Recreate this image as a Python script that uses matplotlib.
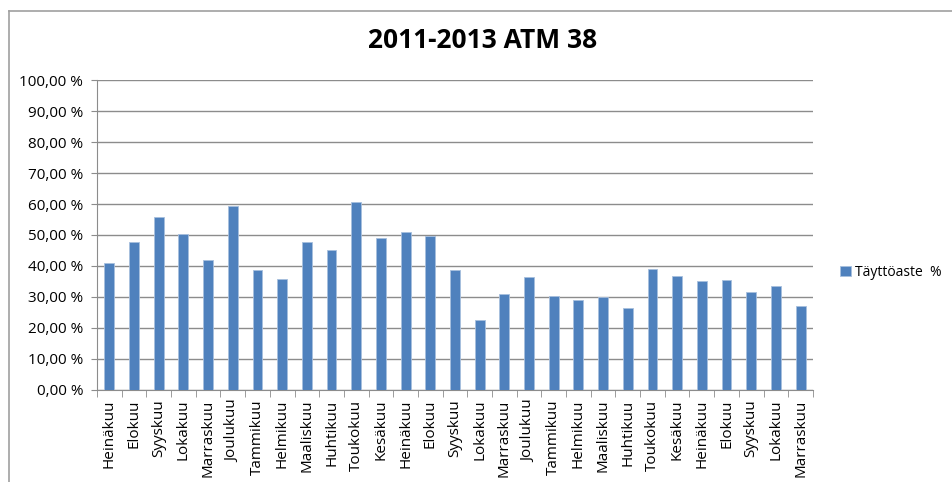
import numpy as np
import matplotlib.pyplot as plt
from matplotlib.lines import Line2D
from matplotlib.ticker import FixedLocator, FuncFormatter

plt.rcParams['font.family'] = ['Open Sans', 'DejaVu Sans']

months = ["Heinäkuu", "Elokuu", "Syyskuu", "Lokakuu", "Marraskuu", "Joulukuu",
          "Tammikuu", "Helmikuu", "Maaliskuu", "Huhtikuu", "Toukokuu", "Kesäkuu",
          "Heinäkuu", "Elokuu", "Syyskuu", "Lokakuu", "Marraskuu", "Joulukuu",
          "Tammikuu", "Helmikuu", "Maaliskuu", "Huhtikuu", "Toukokuu", "Kesäkuu",
          "Heinäkuu", "Elokuu", "Syyskuu", "Lokakuu", "Marraskuu"]
fill_pct = [40.9, 47.6, 55.8, 50.2, 41.9, 59.5, 38.7, 35.9, 47.6, 45.3,
            60.6, 48.9, 50.9, 49.8, 38.7, 22.5, 31.0, 36.3, 30.2, 29.0,
            29.9, 26.6, 39.1, 36.8, 35.2, 35.6, 31.5, 33.4, 27.0]
series_name = "Täyttöaste  %"

fig = plt.figure(figsize=(9.53, 4.82), dpi=100)
ax = fig.add_axes([0.1018, 0.1909, 0.7512, 0.6431])

x = np.arange(len(months))
ax.bar(x, fill_pct, width=0.4, color="#4F81BD", edgecolor="#A7BFDE",
       linewidth=0.6, label=series_name, zorder=3)

ax.set_xlim(-0.5, len(months) - 0.5)
ax.set_ylim(0, 100)
ax.set_yticks(np.arange(0, 101, 10))
ax.yaxis.set_major_formatter(FuncFormatter(lambda v, p: f"{v:.2f}".replace(".", ",") + " %"))
ax.grid(axis="y", color="#8C8C8C", linewidth=1.0, zorder=0)

ax.set_xticks(x)
ax.set_xticklabels(months, rotation=90, fontsize=11)
ax.xaxis.set_minor_locator(FixedLocator(np.arange(-0.5, len(months), 1.0)))
ax.tick_params(axis="x", which="major", length=0, pad=7)
ax.tick_params(axis="x", which="minor", length=5, color="#8C8C8C", direction="out")
ax.tick_params(axis="y", length=4, color="#8C8C8C", labelsize=11, pad=6)

for s in ["top", "right"]:
    ax.spines[s].set_visible(False)
for s in ["left", "bottom"]:
    ax.spines[s].set_color("#8C8C8C")

fig.text(0.506, 0.915, "2011-2013 ATM 38", ha="center", va="center",
         fontsize=19, fontweight="bold")

ax.legend(loc="center left", bbox_to_anchor=(1.02, 0.38), frameon=False,
          fontsize=10, handlelength=0.8, handleheight=0.8, handletextpad=0.3)

# outer chart frame
fig.add_artist(Line2D([9 / 953, 9 / 953], [0, 1 - 11 / 482], color="#A0A0A0", lw=1.2))
fig.add_artist(Line2D([9 / 953, 1], [1 - 11 / 482, 1 - 11 / 482], color="#A0A0A0", lw=1.2))

fig.savefig("out.png", dpi=100)
